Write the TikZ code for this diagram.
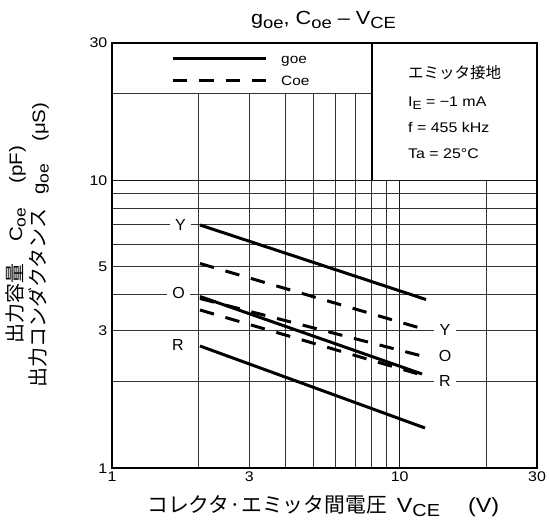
\documentclass[tikz,border=0pt]{standalone}
\usepackage{fontspec}
\setmainfont{Liberation Sans}[FakeStretch=1.14]
\newfontfamily\plainsf{Liberation Sans}
\newfontfamily\jpfont{Noto Sans CJK JP}
\newcommand\lsub[1]{\raisebox{-0.2em}{\scalebox{0.85}{#1}}}
\tikzset{
  gridln/.style={draw=black!80, line width=0.9pt},
  boldgrid/.style={draw=black!90, line width=1.4pt},
  frameln/.style={draw=black, line width=2pt},
  gline/.style={draw=black, line width=3pt},
  cline/.style={draw=black, line width=3pt, dash pattern=on 14.5pt off 12pt},
  curvelab/.style={fill=white, inner xsep=5.5pt, inner ysep=1pt, font=\plainsf\fontsize{16}{16}\selectfont},
  ticklab/.style={inner sep=0pt, font=\fontsize{14}{14}\selectfont},
  infotxt/.style={anchor=base west, inner sep=0pt, font=\fontsize{14}{15}\selectfont},
}
\begin{document}
\begin{tikzpicture}[x=1pt,y=-1pt]
\useasboundingbox (0,0) rectangle (549,532);
\def\K{124.945}
% grid: verticals
\foreach \v in {2,...,7}
  \draw[gridln] ({112+\K*ln(\v)},468) -- ({112+\K*ln(\v)},{468-\K*ln(20)});
\foreach \v in {9,20}
  \draw[gridln] ({112+\K*ln(\v)},468) -- ({112+\K*ln(\v)},{468-\K*ln(10)});
\draw[boldgrid] ({112+\K*ln(10)},468) -- ({112+\K*ln(10)},{468-\K*ln(10)});
\draw[gridln] ({112+\K*ln(8)},468) -- ({112+\K*ln(8)},{468-\K*ln(10)});
% grid: horizontals
\foreach \v in {2,...,9}
  \draw[gridln] (112,{468-\K*ln(\v)}) -- (537,{468-\K*ln(\v)});
\draw[boldgrid] (112,{468-\K*ln(10)}) -- (537,{468-\K*ln(10)});
\draw[gridln] (112,{468-\K*ln(20)}) -- ({112+\K*ln(8)},{468-\K*ln(20)});
% info box divider
\draw[frameln] ({112+\K*ln(8)},43) -- ({112+\K*ln(8)},{468-\K*ln(10)});
% frame
\draw[frameln] (112,43) rectangle (537,468);

% curve labels
\node[curvelab] (lYl) at (180.5,225) {Y};
\node[curvelab] (lOl) at (178.5,293) {O};
\node[curvelab] (lRl) at (178,345.3) {R};
\node[curvelab] (lYr) at (445,329.8) {Y};
\node[curvelab] (lOr) at (445,356.3) {O};
\node[curvelab] (lRr) at (445,380.5) {R};

% data lines
\coordinate (gY1) at (200,225);   \coordinate (gY2) at (426,299.5);
\coordinate (gO1) at (200,296.5); \coordinate (gO2) at (422,374);
\coordinate (gR1) at (200,346);   \coordinate (gR2) at (425,428);
\coordinate (cY1) at (200,263.5); \coordinate (cY2) at (420,328);
\coordinate (cO1) at (200,298.5); \coordinate (cO2) at (420,355.5);
\coordinate (cR1) at (200,310);   \coordinate (cR2) at (420,374.5);
\draw[gline] (gY1) -- (gY2);
\draw[gline] (gO1) -- (gO2);
\draw[gline] (gR1) -- (gR2);
\draw[cline] (cY1) -- (cY2);
\draw[cline] (cO1) -- (cO2);
\draw[cline] (cR1) -- (cR2);

% legend
\coordinate (lg1) at (172.7,58.5); \coordinate (lg2) at (265.7,58.5);
\coordinate (lc1) at (172.7,80.3); \coordinate (lc2) at (265.7,80.3);
\draw[gline] (lg1) -- (lg2);
\draw[cline] (lc1) -- (lc2);
\node[infotxt, font=\fontsize{13.5}{14}\selectfont] (legg) at (281,63.5) {goe};
\node[infotxt, font=\fontsize{13.5}{14}\selectfont] (legc) at (281,85.5) {Coe};

% info
\node[infotxt, font=\jpfont\fontsize{15.5}{16}\selectfont] (inf0) at (408,79) {エミッタ接地};
\node[infotxt] (inf1) at (408,106.7) {I\lsub{E} = −1 mA};
\node[infotxt] (inf2) at (408,132.7) {f = 455 kHz};
\node[infotxt] (inf3) at (408,158.3) {Ta = 25°C};

% tick labels
\node[ticklab, anchor=east] (y30) at (107.5,43) {30};
\node[ticklab, anchor=east] (y10) at (107.5,181) {10};
\node[ticklab, anchor=east] (y5) at (107.5,267) {5};
\node[ticklab, anchor=east] (y3) at (107.5,331) {3};
\node[ticklab, anchor=east] (y1) at (107.5,469) {1};
\node[ticklab, anchor=north] (x1) at (112,471.5) {1};
\node[ticklab, anchor=north] (x3) at ({112+\K*ln(3)},471.5) {3};
\node[ticklab, anchor=north] (x10) at ({112+\K*ln(10)},471.5) {10};
\node[ticklab, anchor=north] (x30) at (537,471.5) {30};

% title
\node[anchor=base, inner sep=0pt, font=\fontsize{19}{19}\selectfont] (title) at (323.5,25)
  {g\lsub{oe}, C\lsub{oe} – V\lsub{CE}};

% x axis title
\node[anchor=base west, inner sep=0pt, font=\fontsize{20.5}{20}\selectfont] (xtitle) at (147,512)
  {{\jpfont\fontsize{20.8}{20}\selectfont コレクタ·エミッタ間電圧}\hspace{10pt}V\lsub{CE}\hspace{28pt}(V)};

% y axis title
\node[rotate=90, align=center, inner sep=0pt, font=\fontsize{18}{23}\selectfont] (ytitle) at (27,245)
  {{\jpfont\fontsize{20}{23}\selectfont 出力容量}\hspace{22pt}C\lsub{oe}\hspace{24pt}(pF)\\
   {\jpfont\fontsize{20}{23}\selectfont 出力コンダクタンス}\hspace{14pt}g\lsub{oe}\hspace{22pt}(μS)};
\end{tikzpicture}
\end{document}
